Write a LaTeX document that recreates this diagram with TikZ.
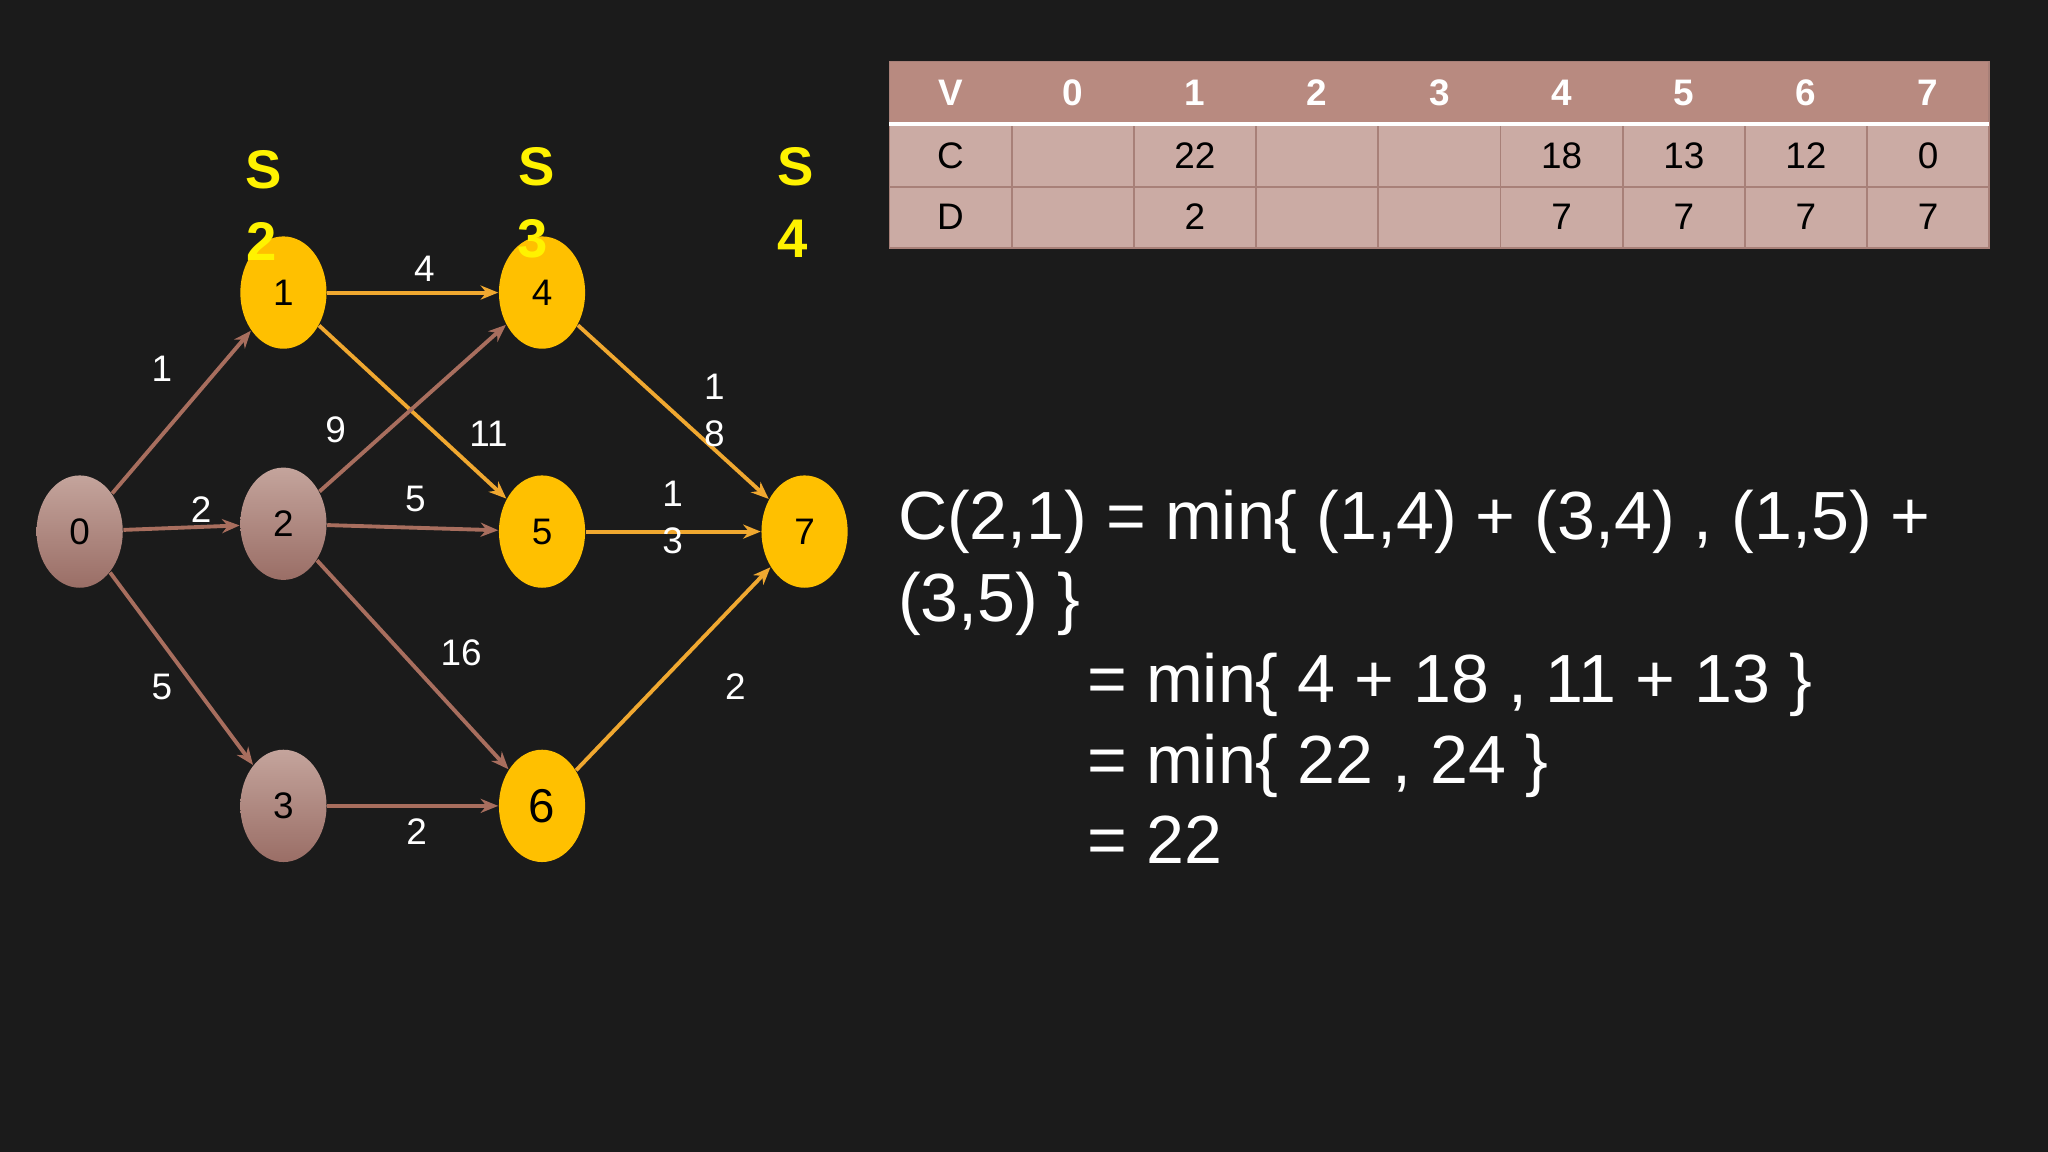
\documentclass[tikz,border=0pt]{standalone}
\usepackage{fontspec}
\setmainfont{Liberation Sans}
\usetikzlibrary{arrows.meta,shapes.geometric}
\definecolor{bg}{HTML}{1B1B1B}
\definecolor{yel}{HTML}{FFC000}
\definecolor{brn}{HTML}{A86E5E}
\definecolor{org}{HTML}{F0A830}
\definecolor{ntop}{HTML}{C4A49C}
\definecolor{nbot}{HTML}{9A6E66}
\definecolor{thead}{HTML}{B88A80}
\definecolor{tbody}{HTML}{CBABA4}
\definecolor{tgrid}{HTML}{A88078}
\tikzset{
 ynode/.style={ellipse,fill=yel,minimum width=66*0.013061cm,minimum height=86*0.013061cm,inner sep=0pt,font=\fontsize{10.5}{12}\selectfont},
 bnode/.style={ellipse,top color=ntop,bottom color=nbot,minimum width=66*0.013061cm,minimum height=86*0.013061cm,inner sep=0pt,font=\fontsize{10.5}{12}\selectfont},
 bedge/.style={draw=brn,line width=1.1pt,-{Stealth[length=5pt,width=4pt]}},
 oedge/.style={draw=org,line width=1.1pt,-{Stealth[length=5pt,width=4pt]}},
 elab/.style={text=white,font=\fontsize{10.5}{12}\selectfont},
 slab/.style={text=yellow,font=\bfseries\fontsize{15.5}{18}\selectfont},
 eq/.style={text=white,anchor=base west,font=\fontsize{19.4}{23}\selectfont,inner sep=0pt},
 thd/.style={text=white,font=\bfseries\fontsize{10.5}{12}\selectfont},
 tbd/.style={text=black,font=\fontsize{10.5}{12}\selectfont},
}
\begin{document}
\begin{tikzpicture}[x=0.013061cm,y=-0.013061cm]
\fill[bg] (0,0) rectangle (1568,882);
\useasboundingbox (0,0) rectangle (1568,882);
% nodes
\node[bnode] (n0) at (61,407) {0};
\node[ynode] (n1) at (217,224) {1};
\node[bnode] (n2) at (217,401) {2};
\node[bnode] (n3) at (217,617) {3};
\node[ynode] (n4) at (415,224) {4};
\node[ynode] (n5) at (415,407) {5};
\node[ynode,font=\fontsize{13.5}{15}\selectfont] (n6) at (415,617) {6};
\node[ynode] (n7) at (616,407) {7};
% edges
\draw[bedge] (n0) -- (n1);
\draw[bedge] (n0) -- (n2);
\draw[bedge] (n0) -- (n3);
\draw[oedge] (n1) -- (n4);
\draw[oedge] (n1) -- (n5);
\draw[bedge] (n2) -- (n4);
\draw[bedge] (n2) -- (n5);
\draw[bedge] (n2) -- (n6);
\draw[bedge] (n3) -- (n6);
\draw[oedge] (n4) -- (n7);
\draw[oedge] (n5) -- (n7);
\draw[oedge] (n6) -- (n7);
% edge labels
\node[elab] (l01) at (124,282) {1};
\node[elab] (l02) at (154,390) {2};
\node[elab] (l03) at (124,526) {5};
\node[elab] (l14) at (325,206) {4};
\node[elab] (l15) at (374,332) {11};
\node[elab] (l24) at (257,329) {9};
\node[elab] (l25) at (318,382) {5};
\node[elab] (l26) at (353,500) {16};
\node[elab] (l36) at (319,637) {2};
\node[elab] (l47a) at (547,296) {1};
\node[elab] (l47b) at (547,332) {8};
\node[elab] (l57a) at (515,378) {1};
\node[elab] (l57b) at (515,414) {3};
\node[elab] (l67) at (563,526) {2};
% stage labels
\node[slab] (s2a) at (202,130) {S};
\node[slab] (s2b) at (200,185) {2};
\node[slab] (s3a) at (411,128) {S};
\node[slab] (s3b) at (408,183) {3};
\node[slab] (s4a) at (609,128) {S};
\node[slab] (s4b) at (607,183) {4};
% table
\fill[thead] (681,47) rectangle (1523,95);
\fill[tbody] (681,95) rectangle (1523,190);
\foreach \i in {1,...,8} \draw[tgrid,line width=0.5pt] (681+\i*93.56,95) -- (681+\i*93.56,190);
\draw[tgrid,line width=0.5pt] (681,143) -- (1523,143);
\draw[tgrid,line width=0.5pt] (681,47) rectangle (1523,190);
\draw[white,line width=1.2pt] (681,95) -- (1523,95);
\foreach \t [count=\i from 0] in {V,0,1,2,3,4,5,6,7}
  \node[thd] (h\i) at (681+46.78+\i*93.56,71) {\t};
\foreach \t [count=\i from 0] in {C,,22,,,18,13,12,0}
  \node[tbd] (c\i) at (681+46.78+\i*93.56,119) {\t};
\foreach \t [count=\i from 0] in {D,,2,,,7,7,7,7}
  \node[tbd] (d\i) at (681+46.78+\i*93.56,166) {\t};
% equation
\node[eq] (e1) at (687,413) {C(2,1) = min\{ (1,4) + (3,4) , (1,5) +};
\node[eq] (e2) at (687,476) {(3,5) \}};
\node[eq] (e3) at (832,538) {= min\{ 4 + 18 , 11 + 13 \}};
\node[eq] (e4) at (832,600) {= min\{ 22 , 24 \}};
\node[eq] (e5) at (832,661) {= 22};
\end{tikzpicture}
\end{document}
